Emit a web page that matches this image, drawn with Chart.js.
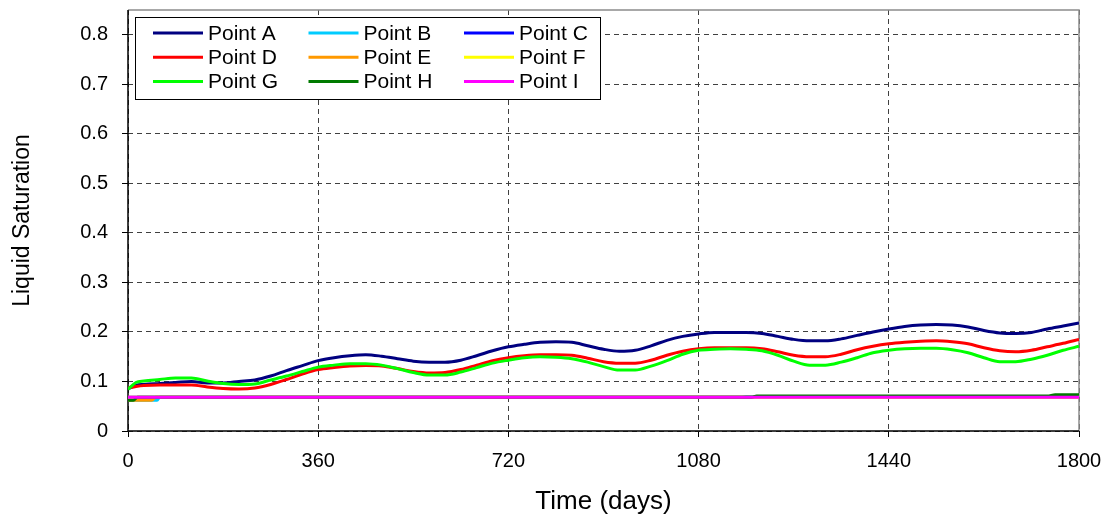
<!DOCTYPE html>
<html>
<head>
<meta charset="utf-8">
<script src="https://cdn.jsdelivr.net/npm/chart.js@4/dist/chart.umd.min.js"></script>
<style>
    html, body { margin: 0; padding: 0; background: #fff; }
    #wrap { width: 1107px; height: 520px; }
</style>
</head>
<body>
<div id="wrap"><canvas id="satChart" width="1107" height="520"></canvas></div>
<script>
// Liquid saturation vs time

const days = [0, 15, 30, 60, 90, 120, 150, 180, 210, 240, 270, 300, 330, 360, 390, 420, 450, 480, 510, 540,
    570, 600, 630, 660, 690, 720, 750, 780, 810, 840, 870, 900, 930, 960, 990, 1020, 1050, 1080, 1110, 1140,
    1170, 1200, 1230, 1260, 1290, 1320, 1350, 1380, 1410, 1440, 1470, 1500, 1530, 1560, 1590, 1620, 1650, 1680,
    1710, 1740, 1770, 1800];

const pointA = [0.085, 0.092, 0.094, 0.096, 0.098, 0.100, 0.097, 0.097, 0.100, 0.103, 0.111, 0.122, 0.132, 0.142,
    0.148, 0.152, 0.154, 0.151, 0.146, 0.141, 0.139, 0.139, 0.143, 0.152, 0.162, 0.170, 0.175, 0.179, 0.180, 0.179,
    0.172, 0.165, 0.161, 0.163, 0.172, 0.183, 0.191, 0.196, 0.199, 0.199, 0.199, 0.197, 0.191, 0.185, 0.182, 0.182,
    0.186, 0.193, 0.200, 0.206, 0.211, 0.214, 0.215, 0.214, 0.210, 0.203, 0.198, 0.197, 0.199, 0.206, 0.212, 0.218];

const pointD = [0.087, 0.090, 0.092, 0.093, 0.093, 0.093, 0.089, 0.086, 0.085, 0.087, 0.094, 0.104, 0.115, 0.124,
    0.128, 0.131, 0.132, 0.131, 0.126, 0.120, 0.117, 0.118, 0.124, 0.133, 0.142, 0.148, 0.152, 0.154, 0.154, 0.153,
    0.147, 0.140, 0.137, 0.137, 0.143, 0.153, 0.161, 0.166, 0.168, 0.168, 0.168, 0.166, 0.160, 0.153, 0.150, 0.150,
    0.155, 0.164, 0.171, 0.176, 0.179, 0.181, 0.182, 0.180, 0.176, 0.168, 0.162, 0.160, 0.163, 0.170, 0.177, 0.185];

const pointG = [0.084, 0.098, 0.101, 0.104, 0.107, 0.107, 0.101, 0.096, 0.094, 0.095, 0.103, 0.111, 0.120, 0.129,
    0.133, 0.136, 0.136, 0.133, 0.126, 0.118, 0.113, 0.113, 0.119, 0.128, 0.137, 0.143, 0.148, 0.150, 0.149, 0.146,
    0.139, 0.130, 0.123, 0.123, 0.131, 0.142, 0.155, 0.163, 0.165, 0.166, 0.165, 0.162, 0.153, 0.141, 0.133, 0.133,
    0.139, 0.148, 0.158, 0.163, 0.166, 0.167, 0.167, 0.164, 0.158, 0.148, 0.140, 0.140, 0.145, 0.153, 0.163, 0.171];

// the nearly flat series have their own few breakpoints
const daysB = [0, 55, 60, 1160, 1170, 1800];
const pointB = [0.062, 0.062, 0.068, 0.068, 0.0695, 0.0695];
const daysC = [0, 1800];
const pointC = [0.068, 0.068];
const daysE = [0, 45, 52, 1800];
const pointE = [0.062, 0.062, 0.068, 0.068];
const daysF = [0, 1800];
const pointF = [0.068, 0.068];
const daysH = [0, 10, 18, 1180, 1190, 1740, 1755, 1800];
const pointH = [0.062, 0.062, 0.068, 0.068, 0.0705, 0.0705, 0.073, 0.073];
const daysI = [0, 1800];
const pointI = [0.068, 0.068];

const seriesNames = ['Point A', 'Point B', 'Point C', 'Point D', 'Point E', 'Point F', 'Point G', 'Point H', 'Point I'];
const seriesColors = ['#000080', '#00CCFF', '#0000FF', '#FF0000', '#FF9900', '#FFFF00', '#00FF00', '#007A00', '#FF00FF'];

const xTicks = [0, 360, 720, 1080, 1440, 1800];
const yTicks = [0, 0.1, 0.2, 0.3, 0.4, 0.5, 0.6, 0.7, 0.8];

const FONT = "'Liberation Sans', Arial, sans-serif";

function pairs(xs, ys) {
    return xs.map((x, i) => ({ x: x, y: ys[i] }));
}

const seriesData = [
    pairs(days, pointA), pairs(daysB, pointB), pairs(daysC, pointC),
    pairs(days, pointD), pairs(daysE, pointE), pairs(daysF, pointF),
    pairs(days, pointG), pairs(daysH, pointH), pairs(daysI, pointI)
];

// grey frame on top/right, solid black axes on left/bottom
const framePlugin = {
    id: 'frame',
    beforeDatasetsDraw(chart) {
        const a = chart.chartArea;
        const ctx = chart.ctx;
        ctx.save();
        ctx.setLineDash([]);
        ctx.strokeStyle = '#8c8c8c';
        ctx.lineWidth = 1.5;
        ctx.beginPath();
        ctx.moveTo(a.left, a.top);
        ctx.lineTo(a.right, a.top);
        ctx.lineTo(a.right, a.bottom);
        ctx.stroke();
        ctx.strokeStyle = '#000';
        ctx.beginPath();
        ctx.moveTo(a.left, a.top);
        ctx.lineTo(a.left, a.bottom);
        ctx.lineTo(a.right, a.bottom);
        ctx.stroke();
        ctx.restore();
    }
};

// boxed three-column legend in the top-left corner of the plot
const boxLegend = {
    id: 'boxLegend',
    afterDatasetsDraw(chart) {
        const a = chart.chartArea;
        const ctx = chart.ctx;
        const x0 = a.left + 7, y0 = a.top + 7;
        const w = 465, h = 82;
        ctx.save();
        ctx.fillStyle = '#fff';
        ctx.fillRect(x0, y0, w, h);
        ctx.strokeStyle = '#000';
        ctx.lineWidth = 1;
        ctx.strokeRect(x0 + 0.5, y0 + 0.5, w, h);
        ctx.font = '21px ' + FONT;
        ctx.textBaseline = 'middle';
        ctx.fillStyle = '#000';
        chart.data.datasets.forEach((ds, i) => {
            const col = i % 3, row = Math.floor(i / 3);
            const lx = x0 + 18 + col * 155.5;
            const ly = y0 + 16 + row * 24.2;
            ctx.strokeStyle = ds.borderColor;
            ctx.lineWidth = 3;
            ctx.beginPath();
            ctx.moveTo(lx, ly);
            ctx.lineTo(lx + 50, ly);
            ctx.stroke();
            ctx.fillText(ds.label, lx + 55, ly + 1);
        });
        ctx.restore();
    }
};

function createSaturationChart() {
    const ctx = document.getElementById('satChart');
    if (!ctx) return;
    new Chart(ctx, {
        type: 'line',
        data: {
            datasets: seriesNames.map((name, i) => ({
                label: name,
                data: seriesData[i],
                borderColor: seriesColors[i],
                backgroundColor: seriesColors[i],
                borderWidth: 3,
                pointRadius: 0,
                fill: false,
                cubicInterpolationMode: 'monotone',
                order: seriesNames.length - 1 - i
            }))
        },
        options: {
            responsive: false,
            animation: false,
            events: [],
            layout: { padding: { top: 10, right: 28, left: 0, bottom: 0 } },
            plugins: {
                legend: { display: false },
                tooltip: { enabled: false }
            },
            scales: {
                x: {
                    type: 'linear',
                    min: 0,
                    max: 1800,
                    afterFit: (s) => { s.height = 89; s.paddingLeft = 0; s.paddingRight = 0; },
                    afterBuildTicks: (s) => { s.ticks = xTicks.map(v => ({ value: v })); },
                    grid: {
                        color: '#404040',
                        lineWidth: 1,
                        tickLength: 6,
                        tickColor: '#000',
                        tickBorderDash: []
                    },
                    border: { display: false, dash: [5, 4] },
                    ticks: {
                        font: { family: FONT, size: 20 },
                        color: '#000',
                        padding: 12,
                        maxRotation: 0,
                        callback: (v) => String(v)
                    },
                    title: {
                        display: true,
                        text: 'Time (days)',
                        font: { family: FONT, size: 26 },
                        color: '#000',
                        padding: { top: 0, bottom: 3 }
                    }
                },
                y: {
                    type: 'linear',
                    min: 0,
                    max: 0.85,
                    afterFit: (s) => { s.width = 128; s.paddingTop = 0; s.paddingBottom = 0; },
                    afterBuildTicks: (s) => { s.ticks = yTicks.map(v => ({ value: v })); },
                    grid: {
                        color: '#404040',
                        lineWidth: 1,
                        tickLength: 6,
                        tickColor: '#000',
                        tickBorderDash: []
                    },
                    border: { display: false, dash: [5, 4] },
                    ticks: {
                        font: { family: FONT, size: 20 },
                        color: '#000',
                        padding: 14,
                        callback: (v) => String(Math.round(v * 10) / 10)
                    },
                    title: {
                        display: true,
                        text: 'Liquid Saturation',
                        font: { family: FONT, size: 23 },
                        color: '#000',
                        padding: { top: 9, bottom: 0 }
                    }
                }
            }
        },
        plugins: [framePlugin, boxLegend]
    });
}

document.addEventListener('DOMContentLoaded', createSaturationChart);
</script>
</body>
</html>
